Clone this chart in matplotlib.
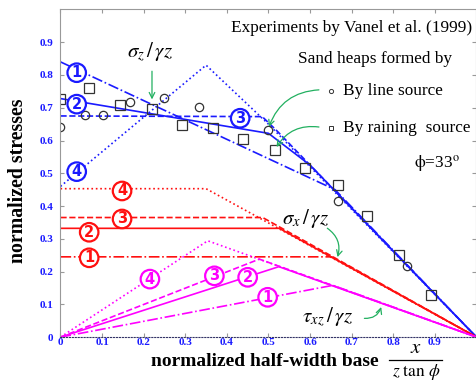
import matplotlib
matplotlib.use("Agg")
import matplotlib.pyplot as plt
from matplotlib.lines import Line2D

plt.rcParams['font.family'] = ['Liberation Serif', 'DejaVu Serif']
plt.rcParams['mathtext.fontset'] = 'stix'

# sigma_z / gamma z  (blue), curves 1..4
blue_x = [[0, 0.66, 1.0],
          [0, 0.50, 0.60, 1.0],
          [0, 0.485, 0.52, 1.0],
          [0, 0.35, 0.45, 0.50, 1.0]]
blue_y = [[0.84, 0.45, 0.0],
          [0.728, 0.622, 0.525, 0.0],
          [0.675, 0.673, 0.63, 0.0],
          [0.46, 0.83, 0.71, 0.65, 0.0]]

# sigma_x / gamma z  (red)
red_x = [[0, 0.652, 1.0], [0, 0.526, 1.0], [0, 0.486, 1.0], [0, 0.35, 1.0]]
red_y = [[0.245, 0.245, 0.0], [0.332, 0.332, 0.0], [0.365, 0.365, 0.0], [0.453, 0.453, 0.0]]

# tau_xz / gamma z  (magenta)
mag_x = [[0, 0.655, 1.0], [0, 0.525, 1.0], [0, 0.478, 1.0], [0, 0.354, 1.0]]
mag_y = [[0, 0.158, 0.0], [0, 0.215, 0.0], [0, 0.238, 0.0], [0, 0.294, 0.0]]

styles = ['-.', '-', '--', ':']

# Vanel et al. (1999) data
line_src_x = [0, 0.059, 0.103, 0.167, 0.249, 0.332, 0.498, 0.667, 0.833]
line_src_y = [0.642, 0.678, 0.678, 0.717, 0.729, 0.703, 0.632, 0.415, 0.217]
rain_src_x = [0, 0.069, 0.144, 0.219, 0.291, 0.366, 0.44, 0.516, 0.589, 0.667, 0.738, 0.813, 0.89]
rain_src_y = [0.727, 0.761, 0.708, 0.695, 0.647, 0.637, 0.604, 0.571, 0.515, 0.464, 0.37, 0.251, 0.128]

# circled curve numbers
blue_lab = [(0.039, 0.807), (0.039, 0.711), (0.432, 0.668), (0.039, 0.505)]
red_lab = [(0.069, 0.242), (0.069, 0.32), (0.148, 0.3605), (0.148, 0.446)]
mag_lab = [(0.498, 0.1215), (0.45, 0.1825), (0.37, 0.187), (0.215, 0.177)]

ticks = [0, 0.1, 0.2, 0.3, 0.4, 0.5, 0.6, 0.7, 0.8, 0.9]
tick_labels = ['0', '0.1', '0.2', '0.3', '0.4', '0.5', '0.6', '0.7', '0.8', '0.9']

BLUE = '#1a1aff'
RED = '#ff1010'
MAG = '#ff00ff'
GREEN = '#22b060'

fig = plt.figure(figsize=(4.77, 3.85), dpi=100)
ax = fig.add_axes([0.1268, 0.1244, 0.872, 0.851])

for xs, ys, ls in zip(blue_x, blue_y, styles):
    ax.plot(xs, ys, ls, color=BLUE, lw=1.2)
for xs, ys, ls in zip(red_x, red_y, styles):
    ax.plot(xs, ys, ls, color=RED, lw=1.2)
for xs, ys, ls in zip(mag_x, mag_y, styles):
    ax.plot(xs, ys, ls, color=MAG, lw=1.2)

ax.plot(line_src_x, line_src_y, 'o', ms=6, mfc='none', mec='#333333', mew=0.9)
ax.plot(rain_src_x, rain_src_y, 's', ms=6.5, mfc='none', mec='#333333', mew=0.9)

for labs, col in [(blue_lab, BLUE), (red_lab, RED), (mag_lab, MAG)]:
    for i, (lx, ly) in enumerate(labs):
        ax.text(lx, ly, str(i + 1), color=col, fontsize=10.5, fontweight='bold',
                family='DejaVu Sans', ha='center', va='center',
                bbox=dict(boxstyle='circle,pad=0.12', fc='white', ec=col, lw=1.6))

ax.set_xlim(0, 1)
ax.set_ylim(0, 1)
ax.set_xticks(ticks)
ax.set_xticklabels(tick_labels)
ax.set_yticks(ticks)
ax.set_yticklabels(tick_labels)
ax.tick_params(direction='in', length=3, color='#999999', top=True, right=True,
               labelsize=8, labelcolor=BLUE)
ax.tick_params(axis='x', pad=0.5)
ax.tick_params(axis='y', pad=5)
for lab in ax.get_xticklabels() + ax.get_yticklabels():
    lab.set_fontweight('bold')
for s in ['left', 'right', 'top']:
    ax.spines[s].set_color('#999999')
ax.spines['bottom'].set_color('#333366')
ax.spines['bottom'].set_linestyle(':')

# texts
ax.text(0.99, 0.943, 'Experiments by Vanel et al. (1999)', fontsize=12.4, ha='right', va='center')
ax.text(0.757, 0.848, 'Sand heaps formed by', fontsize=12.4, ha='center', va='center')
ax.plot([0.65], [0.752], 'o', ms=3, mfc='none', mec='#333333', mew=0.7, clip_on=False)
ax.text(0.679, 0.752, 'By line source', fontsize=12.4, ha='left', va='center')
ax.plot([0.65], [0.637], 's', ms=3, mfc='none', mec='#333333', mew=0.7, clip_on=False)
ax.text(0.679, 0.637, 'By raining  source', fontsize=12.4, ha='left', va='center')
ax.text(0.904, 0.53, r'$\mathrm{\phi}$=33$^{\mathrm{o}}$', fontsize=12.4, ha='center', va='center')

ax.text(0.215, 0.87, r'$\sigma_z\,/\,\gamma z$', fontsize=15, ha='center', va='center')
ax.text(0.59, 0.363, r'$\sigma_x\,/\,\gamma z$', fontsize=15, ha='center', va='center')
ax.text(0.643, 0.062, r'$\tau_{xz}\,/\,\gamma z$', fontsize=15, ha='center', va='center')

arr = dict(arrowstyle='->', color=GREEN, lw=0.9)
ax.annotate('', xy=(0.22, 0.717), xytext=(0.22, 0.82), arrowprops=arr)
ax.annotate('', xy=(0.499, 0.634), xytext=(0.628, 0.755),
            arrowprops=dict(arr, connectionstyle='arc3,rad=0.35'))
ax.annotate('', xy=(0.516, 0.573), xytext=(0.628, 0.64),
            arrowprops=dict(arr, connectionstyle='arc3,rad=0.35'))
ax.annotate('', xy=(0.664, 0.236), xytext=(0.636, 0.337),
            arrowprops=dict(arr, connectionstyle='arc3,rad=-0.4'))
ax.annotate('', xy=(0.773, 0.1), xytext=(0.724, 0.058),
            arrowprops=dict(arr, connectionstyle='arc3,rad=0.45'))

# axis labels
fig.text(0.037, 0.531, 'normalized stresses', rotation=90, fontsize=14.3,
         fontweight='bold', ha='center', va='center')
fig.text(0.556, 0.06, 'normalized half-width base', fontsize=14,
         fontweight='bold', ha='center', va='center')
fig.text(0.871, 0.069, r'$x$', fontsize=15, ha='center', va='bottom')
fig.text(0.872, 0.059, r'$z\ \tan\,\phi$', fontsize=12.5, ha='center', va='top')
fig.add_artist(Line2D([0.8155, 0.9266], [0.065, 0.065], color='black', lw=0.9))

fig.savefig('out.png', dpi=100)
